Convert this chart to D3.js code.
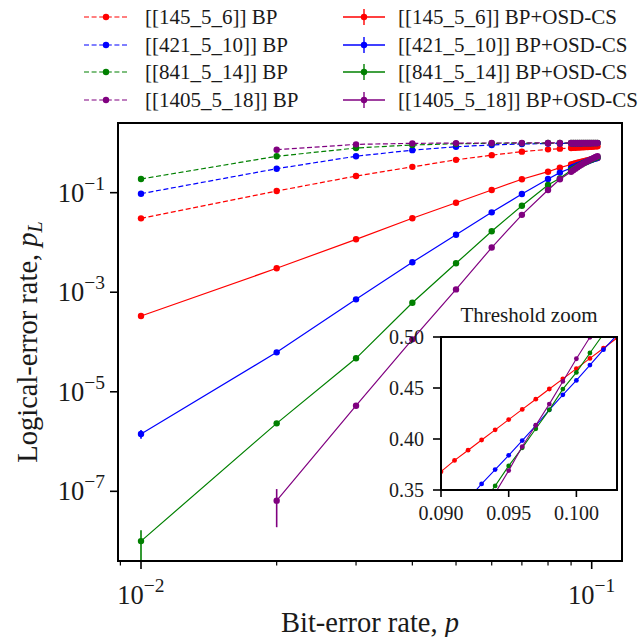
<!DOCTYPE html>
<html><head><meta charset="utf-8">
<script src="https://cdn.jsdelivr.net/npm/d3@7/dist/d3.min.js"></script>
<style>
body{margin:0;background:#fff}
svg{display:block}
text{font-family:"Liberation Serif","Times New Roman",serif;fill:#1a1a1a}
</style></head>
<body><svg id="chart" width="639" height="637"></svg>
<script>
// ---------------- data ----------------
const pValues = [0.01,0.02,0.03,0.04,0.05,0.06,0.07,0.08,0.085,
  0.090,0.091,0.092,0.093,0.094,0.095,0.096,0.097,0.098,0.099,0.100,0.101,0.102,0.103];

const codeNames = ["[[145_5_6]]","[[421_5_10]]","[[841_5_14]]","[[1405_5_18]]"];
const colors = ["#ff0000","#0000ff","#008000","#800080"];

const bp145  = [0.0305,0.108,0.216,0.33,0.457,0.567,0.667,0.743,0.766,
  0.79,0.795,0.80,0.805,0.81,0.815,0.82,0.825,0.83,0.835,0.84,0.845,0.85,0.855];
const bp421  = [0.0955,0.303,0.54,0.716,0.837,0.91,0.95,0.972,0.978,
  0.982,0.983,0.984,0.985,0.986,0.987,0.988,0.989,0.989,0.99,0.99,0.991,0.991,0.992];
const bp841  = [0.188,0.538,0.79,0.91,0.96,0.982,0.99,0.994,0.995,
  0.996,0.996,0.996,0.997,0.997,0.997,0.997,0.998,0.998,0.998,0.998,0.998,0.998,0.998];
const bp1405 = [null,0.731,0.935,0.98,0.992,0.996,0.998,0.999,0.999,
  0.999,0.999,0.999,0.999,0.999,0.999,0.999,0.999,0.999,0.999,0.999,0.999,0.999,0.999];

const osd145  = [3.33e-4,3.03e-3,0.01156,0.0306,0.0629,0.1135,0.186,0.264,0.318,
  0.368,0.379,0.389,0.399,0.409,0.419,0.429,0.439,0.449,0.459,0.469,0.479,0.489,0.499];
const osd421  = [1.42e-6,6.2e-5,7.2e-4,0.00399,0.01432,0.0403,0.094,0.188,0.253,
  0.313,0.327,0.341,0.356,0.370,0.384,0.3985,0.413,0.4286,0.4433,0.4574,0.4725,0.4876,0.502];
const osd841  = [1.0e-8,2.32e-6,4.7e-5,6.15e-4,3.81e-3,0.01675,0.0548,0.143,0.194,
  0.283,0.300,0.318,0.336,0.354,0.3736,0.3913,0.410,0.4286,0.4489,0.4653,0.4843,0.503,0.52];
const osd1405 = [null,6.5e-8,5.25e-6,1.13e-4,1.14e-3,7.9e-3,0.0359,0.113,0.186,
  0.262,0.282,0.303,0.325,0.347,0.369,0.3926,0.4135,0.4342,0.4564,0.4787,0.4997,0.52,0.54];

const err145  = [2e-5,1e-4,2e-4,0,0,0,0,0,0, 0,0,0,0,0,0,0,0,0,0,0,0,0,0];
const err421  = [2.8e-7,3e-6,1.5e-5,0,0,0,0,0,0, 0,0,0,0,0,0,0,0,0,0,0,0,0,0];
const err841  = [6.6e-9,2.5e-7,2e-6,1e-5,0,0,0,0,0, 0,0,0,0,0,0,0,0,0,0,0,0,0,0];
const err1405 = [null,4.6e-8,6e-7,5e-6,2e-5,0,0,0,0, 0,0,0,0,0,0,0,0,0,0,0,0,0,0];

const yTickVals = [1e-1,1e-3,1e-5,1e-7];
const yTickExps = ["−1","−3","−5","−7"];
const xTickVals = [1e-2,1e-1];
const xTickExps = ["−2","−1"];
const xMinorVals = [0.009,0.02,0.03,0.04,0.05,0.06,0.07,0.08,0.09];
const insetXTicks = [0.090,0.095,0.100];
const insetYTicks = [0.35,0.40,0.45,0.50];

const bpSeries  = [bp145,bp421,bp841,bp1405];
const osdSeries = [osd145,osd421,osd841,osd1405];
const errSeries = [err145,err421,err841,err1405];

// ---------------- layout ----------------
const svg = d3.select("#chart");
const L=118, R=622, T=123, B=561;
const x = d3.scaleLog().domain([Math.pow(10,-2.05103),Math.pow(10,-0.93277)]).range([L,R]);
const y = d3.scaleLog().domain([Math.pow(10,-8.4),Math.pow(10,0.4)]).range([B,T]);

svg.append("clipPath").attr("id","mainclip").append("rect")
  .attr("x",L).attr("y",T).attr("width",R-L).attr("height",B-T);

const plot = svg.append("g").attr("clip-path","url(#mainclip)");

function pts(vals){ return pValues.map((p,i)=>({p, v: vals[i], i})).filter(d=>d.v!=null); }

const line = d3.line().x(d=>x(d.p)).y(d=>y(d.v));

// BP dashed
bpSeries.forEach((s,k)=>{
  const d = pts(s);
  plot.append("path").attr("d",line(d)).attr("fill","none")
    .attr("stroke",colors[k]).attr("stroke-width",1.2).attr("stroke-dasharray","5,2.6");
  plot.selectAll(null).data(d).enter().append("circle")
    .attr("cx",q=>x(q.p)).attr("cy",q=>y(q.v)).attr("r",3.2).attr("fill",colors[k]);
});
// OSD solid with error bars
osdSeries.forEach((s,k)=>{
  const d = pts(s);
  plot.append("path").attr("d",line(d)).attr("fill","none")
    .attr("stroke",colors[k]).attr("stroke-width",1.2);
  const e = errSeries[k];
  plot.selectAll(null).data(d.filter(q=>e[q.i]>0)).enter().append("line")
    .attr("x1",q=>x(q.p)).attr("x2",q=>x(q.p))
    .attr("y1",q=>{const lo=q.v-e[q.i]; return lo>0? y(lo): B+10;})
    .attr("y2",q=>y(q.v+e[q.i]))
    .attr("stroke",colors[k]).attr("stroke-width",1.6);
  plot.selectAll(null).data(d).enter().append("circle")
    .attr("cx",q=>x(q.p)).attr("cy",q=>y(q.v)).attr("r",3.2).attr("fill",colors[k]);
});

// axes frame
svg.append("rect").attr("x",L).attr("y",T).attr("width",R-L).attr("height",B-T)
  .attr("fill","none").attr("stroke","#000").attr("stroke-width",2);

// y ticks
yTickVals.forEach((v,i)=>{
  const yy = y(v);
  svg.append("line").attr("x1",L-8).attr("x2",L).attr("y1",yy).attr("y2",yy)
    .attr("stroke","#000").attr("stroke-width",1.6);
  const t = svg.append("text").attr("x",L-13).attr("y",yy+9)
    .attr("text-anchor","end").style("font-size","26.5px");
  t.append("tspan").text("10");
  t.append("tspan").attr("dy",-12).style("font-size","19.5px").text(yTickExps[i]);
});
// x ticks
xTickVals.forEach((v,i)=>{
  const xx = x(v);
  svg.append("line").attr("x1",xx).attr("x2",xx).attr("y1",B).attr("y2",B+8)
    .attr("stroke","#000").attr("stroke-width",1.6);
  const t = svg.append("text").attr("x",xx).attr("y",B+43)
    .attr("text-anchor","middle").style("font-size","26.5px");
  t.append("tspan").text("10");
  t.append("tspan").attr("dy",-12).style("font-size","19.5px").text(xTickExps[i]);
});
xMinorVals.forEach(v=>{
  const xx = x(v);
  svg.append("line").attr("x1",xx).attr("x2",xx).attr("y1",B).attr("y2",B+4.5)
    .attr("stroke","#000").attr("stroke-width",1.2);
});

// axis labels
const xl = svg.append("text").attr("x",(L+R)/2).attr("y",632).attr("text-anchor","middle")
  .style("font-size","28.5px");
xl.append("tspan").text("Bit-error rate, ");
xl.append("tspan").style("font-style","italic").text("p");

const yl = svg.append("text").attr("transform",`translate(37,${(T+B)/2}) rotate(-90)`)
  .attr("text-anchor","middle").style("font-size","28.5px");
yl.append("tspan").text("Logical-error rate, ");
yl.append("tspan").style("font-style","italic").text("p");
yl.append("tspan").attr("dy",5).style("font-style","italic").style("font-size","20px").text("L");

// ---------------- inset ----------------
const iL=441, iR=617, iT=337, iB=490;
const ix = d3.scaleLinear().domain([0.090,0.103]).range([iL,iR]);
const iy = d3.scaleLinear().domain([0.35,0.50]).range([iB,iT]);
svg.append("rect").attr("x",iL).attr("y",iT).attr("width",iR-iL).attr("height",iB-iT)
  .attr("fill","#fff");
svg.append("clipPath").attr("id","insclip").append("rect")
  .attr("x",iL).attr("y",iT).attr("width",iR-iL).attr("height",iB-iT);
const ins = svg.append("g").attr("clip-path","url(#insclip)");
const iline = d3.line().x(d=>ix(d.p)).y(d=>iy(d.v));
osdSeries.forEach((s,k)=>{
  const d = pts(s);
  ins.append("path").attr("d",iline(d)).attr("fill","none")
    .attr("stroke",colors[k]).attr("stroke-width",1.1);
  ins.selectAll(null).data(d).enter().append("circle")
    .attr("cx",q=>ix(q.p)).attr("cy",q=>iy(q.v)).attr("r",2.4).attr("fill",colors[k]);
});
svg.append("rect").attr("x",iL).attr("y",iT).attr("width",iR-iL).attr("height",iB-iT)
  .attr("fill","none").attr("stroke","#000").attr("stroke-width",2);
insetXTicks.forEach(v=>{
  svg.append("line").attr("x1",ix(v)).attr("x2",ix(v)).attr("y1",iB).attr("y2",iB+7)
    .attr("stroke","#000").attr("stroke-width",1.6);
  svg.append("text").attr("x",ix(v)).attr("y",iB+30).attr("text-anchor","middle")
    .style("font-size","20px").text(v.toFixed(3));
});
insetYTicks.forEach(v=>{
  svg.append("line").attr("x1",iL-8).attr("x2",iL).attr("y1",iy(v)).attr("y2",iy(v))
    .attr("stroke","#000").attr("stroke-width",1.6);
  svg.append("text").attr("x",iL-17).attr("y",iy(v)+6.5).attr("text-anchor","end")
    .style("font-size","20px").text(v.toFixed(2));
});
svg.append("text").attr("x",(iL+iR)/2).attr("y",iT-15).attr("text-anchor","middle")
  .style("font-size","21px").text("Threshold zoom");

// ---------------- legend ----------------
const rowsY = [17,45,72,100];
codeNames.forEach((n,k)=>{
  const yy = rowsY[k];
  // BP column
  svg.append("line").attr("x1",84).attr("x2",128).attr("y1",yy).attr("y2",yy)
    .attr("stroke",colors[k]).attr("stroke-width",1.2).attr("stroke-dasharray","5,2.6");
  svg.append("circle").attr("cx",106).attr("cy",yy).attr("r",3.2).attr("fill",colors[k]);
  svg.append("text").attr("x",145).attr("y",yy+7).style("font-size","21px").text(n+" BP");
  // OSD column
  svg.append("line").attr("x1",343).attr("x2",385).attr("y1",yy).attr("y2",yy)
    .attr("stroke",colors[k]).attr("stroke-width",1.4);
  svg.append("line").attr("x1",364).attr("x2",364).attr("y1",yy-8).attr("y2",yy+8)
    .attr("stroke",colors[k]).attr("stroke-width",1.4);
  svg.append("circle").attr("cx",364).attr("cy",yy).attr("r",3.2).attr("fill",colors[k]);
  svg.append("text").attr("x",398).attr("y",yy+7).style("font-size","21px").text(n+" BP+OSD-CS");
});
</script></body></html>
